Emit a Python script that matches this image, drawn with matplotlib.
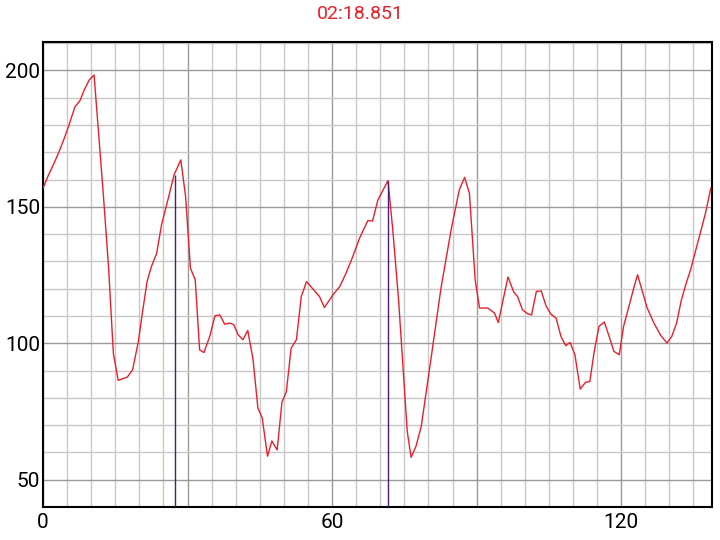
import matplotlib
matplotlib.use("Agg")
import matplotlib.pyplot as plt
from matplotlib.ticker import MultipleLocator

# lap trace
time_s = [0.0, 1.1, 2.3, 3.4, 4.5, 5.5, 6.6, 7.7, 8.6, 9.6, 10.6,
          11.3, 12.5, 13.6, 14.6, 15.6, 16.5, 17.5, 18.6, 19.8, 20.7,
          21.6, 22.5, 23.6, 24.6, 26.0, 27.2, 28.6, 29.6, 30.6, 31.6,
          32.5, 33.4, 34.6, 35.7, 36.7, 37.7, 38.8, 39.6, 40.5, 41.5,
          42.5, 43.6, 44.6, 45.5, 46.6, 47.5, 48.6, 49.6, 50.5, 51.5,
          52.6, 53.6, 54.7, 57.4, 58.4, 60.2, 61.6, 62.9, 64.3, 65.7,
          67.4, 68.4, 69.5, 71.6, 72.6, 73.8, 75.6, 76.4, 77.4, 78.5,
          80.5, 82.6, 84.7, 86.4, 87.5, 88.5, 89.7, 90.6, 92.3, 93.7,
          94.5, 96.5, 97.7, 98.5, 99.5, 100.6, 101.4, 102.4, 103.4, 104.4,
          105.4, 106.5, 107.5, 108.5, 109.4, 110.4, 111.5, 112.6, 113.5, 114.4,
          115.4, 116.5, 117.5, 118.5, 119.6, 120.5, 121.7, 122.6, 123.4, 124.4,
          125.4, 126.8, 128.2, 129.5, 130.5, 131.5, 132.5, 133.6, 134.4, 135.4,
          136.5, 137.5, 138.6]
value = [156.8, 161.5, 166.0, 170.5, 175.5, 180.5, 186.5, 189.0, 193.0, 196.5, 198.3,
         182.4, 155.0, 128.0, 96.4, 86.4, 87.0, 87.6, 90.3, 100.7, 112.0,
         122.6, 128.1, 133.0, 143.4, 153.1, 161.7, 167.2, 153.7, 127.5, 123.2,
         97.6, 96.6, 102.5, 110.1, 110.4, 107.0, 107.4, 106.8, 103.1, 101.3,
         104.7, 94.0, 76.3, 72.6, 58.6, 64.2, 60.9, 78.5, 82.2, 98.2,
         101.3, 117.1, 122.6, 117.1, 113.1, 117.8, 120.8, 125.7, 131.8, 138.5,
         144.9, 144.8, 152.5, 159.6, 141.5, 115.9, 67.7, 58.2, 62.2, 69.5,
         94.0, 120.2, 141.5, 156.2, 160.8, 155.0, 123.2, 112.9, 112.9, 111.1,
         107.6, 124.3, 118.8, 117.1, 112.3, 110.8, 110.4, 119.0, 119.2, 113.7,
         110.7, 109.2, 102.5, 99.1, 100.3, 95.8, 83.2, 85.7, 86.0, 97.0,
         106.2, 107.8, 102.5, 97.0, 95.8, 106.2, 114.1, 120.2, 125.1, 119.0,
         112.9, 107.4, 102.9, 100.1, 102.5, 107.4, 115.9, 122.6, 126.9, 133.6,
         140.9, 147.7, 156.8]

marker_x = [27.36, 71.7]
marker_y = [161.5, 159.6]

lap_time = "02:18.851"
lap_len = 138.851
x_ticks = [0, 60, 120]
y_ticks = [50, 100, 150, 200]

plt.rcParams["font.family"] = ["Roboto", "DejaVu Sans"]

fig = plt.figure(figsize=(7.2, 5.4), dpi=100)
ax = fig.add_axes([43 / 720, 1 - 507 / 540, 669 / 720, 465 / 540])

ax.set_xlim(0, lap_len)
ax.set_ylim(40, 210.4)

ax.xaxis.set_major_locator(MultipleLocator(30))
ax.xaxis.set_minor_locator(MultipleLocator(5))
ax.yaxis.set_major_locator(MultipleLocator(50))
ax.yaxis.set_minor_locator(MultipleLocator(10))
ax.grid(True, which="minor", color="#c8c8c8", lw=1.0)
ax.grid(True, which="major", color="#9a9a9a", lw=1.0)
ax.set_axisbelow(True)

# only label every 60 on x
ax.set_xticks([0, 30, 60, 90, 120])
ax.set_xticklabels(["0", "", "60", "", "120"])
ax.set_yticks(y_ticks)
ax.tick_params(which="both", length=0, labelsize=15, colors="black")
ax.tick_params(axis="y", pad=2)
ax.tick_params(axis="x", pad=4)

for s in ax.spines.values():
    s.set_color("black")
    s.set_linewidth(1.5)

ax.plot(time_s, value, color="#e8202a", lw=1.0, zorder=3)
ax.vlines(marker_x, 40, marker_y, color="#4a1a80", lw=1.0, zorder=4)

fig.text(0.5, 1 - 14 / 540, lap_time, color="#e8202a", fontsize=14,
         ha="center", va="center")

fig.savefig("out.png", dpi=100)
